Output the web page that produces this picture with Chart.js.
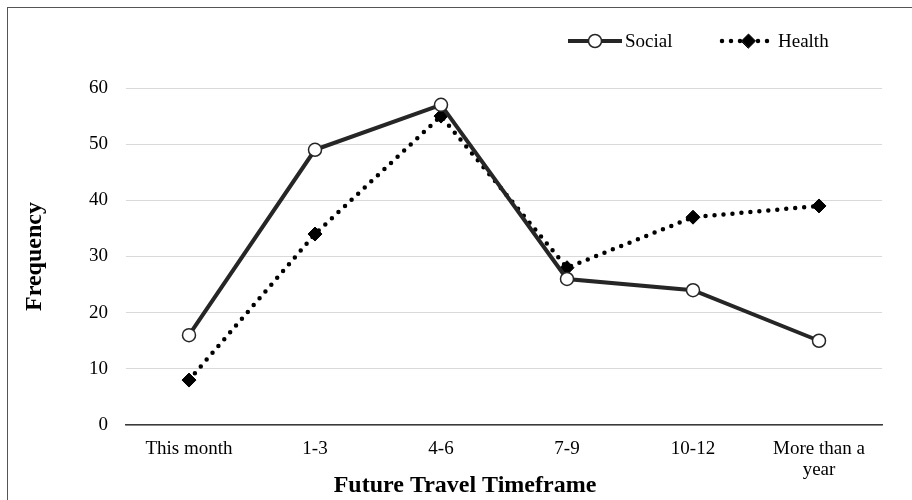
<!DOCTYPE html>
<html>
<head>
<meta charset="utf-8">
<script src="https://cdn.jsdelivr.net/npm/chart.js@4/dist/chart.umd.min.js"></script>
<style>
  html, body { margin: 0; padding: 0; background: #fff; }
  #wrap { position: relative; width: 912px; height: 500px; overflow: hidden; }
  #frame { position: absolute; left: 7px; top: 7px; width: 1000px; height: 600px;
           border: 1.5px solid #555; box-sizing: border-box; }
  #c { position: absolute; left: 0; top: 0; }
</style>
</head>
<body>
<div id="wrap">
  <div id="frame"></div>
  <canvas id="c" width="912" height="500"></canvas>
</div>
<script>
// Planned travel timeframe categories and response counts
const categories = ['This month', '1-3', '4-6', '7-9', '10-12', ['More than a', 'year']];
const socialValues = [16, 49, 57, 26, 24, 15];
const healthValues = [8, 34, 55, 28, 37, 39];
const yTicks = [0, 10, 20, 30, 40, 50, 60];
const xAxisTitle = 'Future Travel Timeframe';

const serif = '"Liberation Serif", "Times New Roman", serif';

// Legend drawn as line + marker samples, like a spreadsheet chart legend
const lineLegend = {
  id: 'lineLegend',
  afterDraw(chart) {
    const ctx = chart.ctx;
    const y = 41;
    const items = [
      { ds: chart.data.datasets[0], x0: 568, x1: 622, text: 625 },
      { ds: chart.data.datasets[1], x0: 722, x1: 775, text: 778 }
    ];
    ctx.save();
    items.forEach(it => {
      const ds = it.ds;
      ctx.beginPath();
      ctx.lineWidth = ds.borderWidth;
      ctx.strokeStyle = ds.borderColor;
      ctx.lineCap = ds.borderCapStyle || 'butt';
      ctx.setLineDash(ds.borderDash || []);
      ctx.moveTo(it.x0, y);
      ctx.lineTo(it.x1, y);
      ctx.stroke();
      ctx.setLineDash([]);
      const opts = {
        pointStyle: ds.pointStyle, radius: ds.pointRadius, rotation: 0,
        borderWidth: ds.pointBorderWidth
      };
      ctx.fillStyle = ds.pointBackgroundColor;
      ctx.strokeStyle = ds.pointBorderColor;
      ctx.lineWidth = ds.pointBorderWidth;
      Chart.helpers.drawPoint(ctx, opts, (it.x0 + it.x1) / 2, y);
      ctx.fillStyle = '#000';
      ctx.font = '19px ' + serif;
      ctx.textBaseline = 'middle';
      ctx.textAlign = 'left';
      ctx.fillText(ds.label, it.text, y + 1);
    });
    ctx.restore();
  }
};

// Horizontal axis title, set slightly left of the plot centre
const xTitle = {
  id: 'xTitle',
  afterDraw(chart) {
    const ctx = chart.ctx;
    const area = chart.chartArea;
    ctx.save();
    ctx.fillStyle = '#000';
    ctx.font = 'bold 24px ' + serif;
    ctx.textAlign = 'center';
    ctx.textBaseline = 'alphabetic';
    ctx.fillText(xAxisTitle, (area.left + area.right) / 2 - 39, 492);
    ctx.restore();
  }
};

new Chart(document.getElementById('c'), {
  type: 'line',
  data: {
    labels: categories,
    datasets: [
      {
        label: 'Social',
        data: socialValues,
        borderColor: '#262626',
        borderWidth: 4,
        pointStyle: 'circle',
        pointRadius: 6.5,
        pointBackgroundColor: '#ffffff',
        pointBorderColor: '#262626',
        pointBorderWidth: 1.5,
        tension: 0
      },
      {
        label: 'Health',
        data: healthValues,
        borderColor: '#000000',
        borderWidth: 4.5,
        borderDash: [0, 9],
        borderCapStyle: 'round',
        pointStyle: 'rectRot',
        pointRadius: 7,
        pointBackgroundColor: '#000000',
        pointBorderColor: '#000000',
        pointBorderWidth: 1,
        tension: 0
      }
    ]
  },
  options: {
    responsive: false,
    animation: false,
    layout: { padding: { left: 0, top: 88, right: 30, bottom: 0 } },
    plugins: {
      legend: { display: false },
      tooltip: { enabled: false }
    },
    scales: {
      x: {
        offset: true,
        grid: { display: false, drawTicks: false },
        border: { display: true, color: '#3a3a3a', width: 1.5 },
        ticks: {
          color: '#000', padding: 14, maxRotation: 0, autoSkip: false,
          font: { family: serif, size: 19, lineHeight: 1.1 }
        },
        title: { display: false },
        afterFit(scale) { scale.height = 75; }
      },
      y: {
        min: 0, max: 60,
        afterBuildTicks(scale) { scale.ticks = yTicks.map(v => ({ value: v })); },
        grid: { color: '#d9d9d9', lineWidth: 1, drawTicks: false },
        border: { display: false },
        ticks: {
          color: '#000', padding: 18,
          font: { family: serif, size: 19 }
        },
        title: {
          display: true, text: 'Frequency', color: '#000',
          font: { family: serif, size: 24, weight: 'bold' },
          padding: { top: 20, bottom: 0 }
        },
        afterFit(scale) { scale.width = 126; }
      }
    }
  },
  plugins: [lineLegend, xTitle]
});
</script>
</body>
</html>
